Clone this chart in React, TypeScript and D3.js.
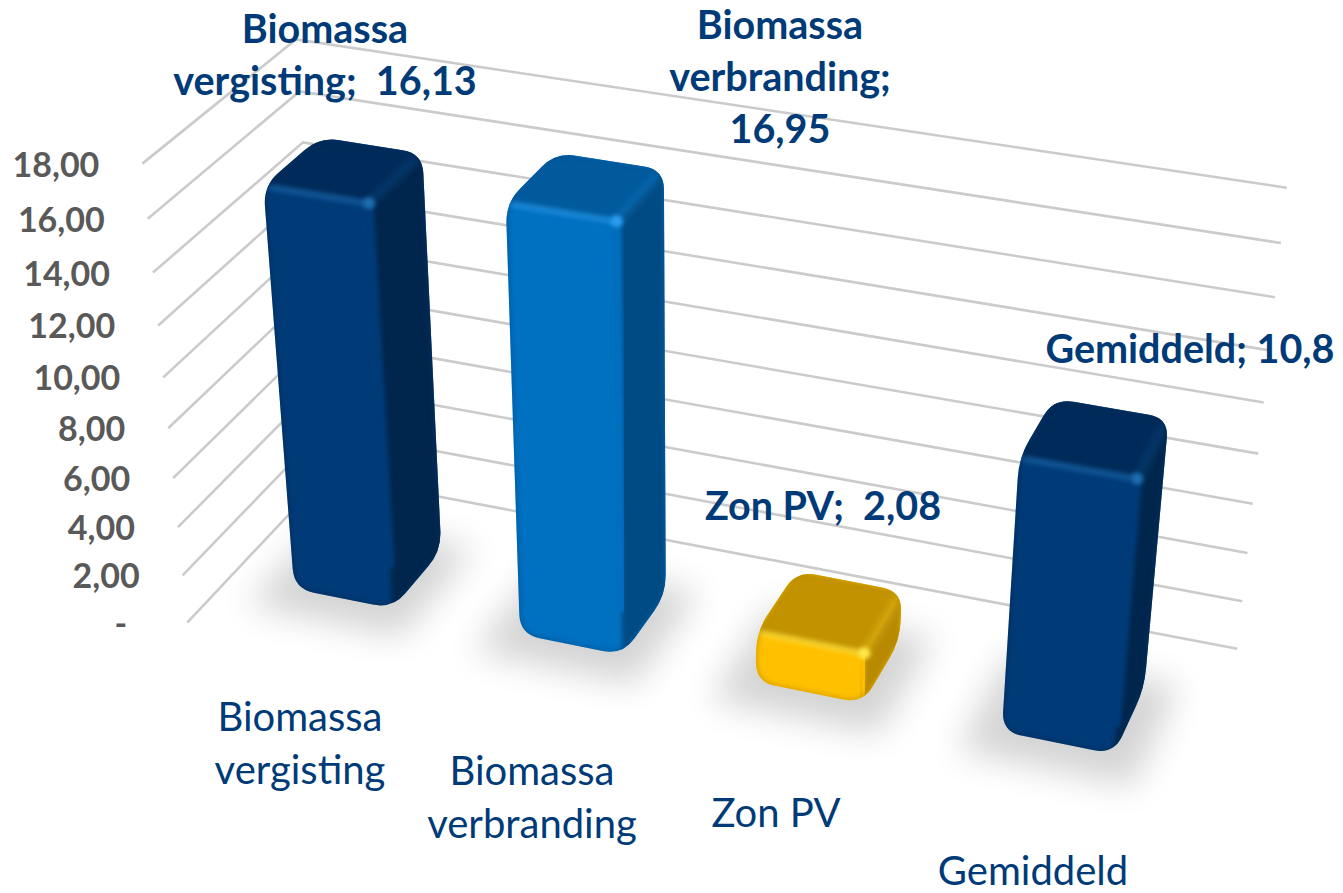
import * as d3 from "d3";

const categories = ["Biomassa vergisting", "Biomassa verbranding", "Zon PV", "Gemiddeld"];
const values = [16.13, 16.95, 2.08, 10.8];
const tickValues = [0, 2, 4, 6, 8, 10, 12, 14, 16, 18];
const tickLabels = ["-", "2,00", "4,00", "6,00", "8,00", "10,00", "12,00", "14,00", "16,00", "18,00"];
const dataLabels = [
  ["Biomassa", "vergisting;  16,13"],
  ["Biomassa", "verbranding;", "16,95"],
  ["Zon PV;  2,08"],
  ["Gemiddeld; 10,8"],
];
const categoryLabels = [["Biomassa", "vergisting"], ["Biomassa", "verbranding"], ["Zon PV"], ["Gemiddeld"]];

// layout, not data
const W = 1343;
const H = 893;
const dataLabelPos = [[325, 43], [780, 39], [823, 520], [1190, 363]];
const categoryLabelPos = [[300, 731], [532, 785], [776, 827], [1033, 885]];
const palette = [
  { front: "#003b78", top: "#002c5a", side: "#00264e", glow: "#1f6db0", rim: "#00264e" },
  { front: "#0070c0", top: "#005a9c", side: "#004c84", glow: "#2a9df0", rim: "#00508c" },
  { front: "#ffc000", top: "#c29200", side: "#b88a00", glow: "#ffe74a", rim: "#b88a00" },
  { front: "#003b78", top: "#002c5a", side: "#00264e", glow: "#1f6db0", rim: "#00264e" },
];

// picture positions of the chart box corners, used to solve the camera
const frontLeftPx = [[188, 623], [183, 576], [178, 527], [173, 478], [168, 428], [163, 376], [158, 324], [153, 272], [147, 217], [142, 163]];
const backRightPx = [[1238, 650], [1243, 602], [1248, 553], [1253, 504], [1258, 453], [1263, 402], [1269, 350], [1275, 296], [1280, 241], [1286, 185]];
const backLeftPx: [number, number, number][] = [[0, 325, 477], [14, 303, 141], [16, 300, 95], [18, 297, 40]];
const frontRightPx: [number, number, number][] = [[0, 1161, 822], [18, 1211, 347]];

const vScale = d3.scaleLinear().domain([0, 18]).range([0, 1]);
const xScale = d3.scaleBand<string>().domain(categories).range([-0.068, 1.07]).padding(0.56);
const depth = d3.scaleLinear().domain([0, 1]).range([0.3, 0.68]);

function solve(A: number[][], b: number[]) {
  const n = b.length;
  const M = A.map((r, i) => [...r, b[i]]);
  for (let c = 0; c < n; c++) {
    let p = c;
    for (let r = c + 1; r < n; r++) if (Math.abs(M[r][c]) > Math.abs(M[p][c])) p = r;
    [M[c], M[p]] = [M[p], M[c]];
    for (let r = 0; r < n; r++) {
      if (r === c) continue;
      const f = M[r][c] / M[c][c];
      for (let k = c; k <= n; k++) M[r][k] -= f * M[c][k];
    }
  }
  return M.map((r, i) => r[n] / r[i]);
}

function fitCamera() {
  const pts: number[][] = [];
  tickValues.forEach((v, i) => {
    pts.push([0, vScale(v), 0, frontLeftPx[i][0], frontLeftPx[i][1]]);
    pts.push([1, vScale(v), 1, backRightPx[i][0], backRightPx[i][1]]);
  });
  backLeftPx.forEach(([v, u, w]) => pts.push([0, vScale(v), 1, u, w]));
  frontRightPx.forEach(([v, u, w]) => pts.push([1, vScale(v), 0, u, w]));
  const rows: number[][] = [];
  const rhs: number[] = [];
  pts.forEach(([x, y, z, u0, v0]) => {
    const u = u0 / 1000;
    const v = v0 / 1000;
    rows.push([x, y, z, 1, 0, 0, 0, 0, -u * x, -u * y, -u * z]);
    rhs.push(u);
    rows.push([0, 0, 0, 0, x, y, z, 1, -v * x, -v * y, -v * z]);
    rhs.push(v);
  });
  const ata = d3.range(11).map(i => d3.range(11).map(j => d3.sum(rows, r => r[i] * r[j])));
  const atb = d3.range(11).map(i => d3.sum(rows, (r, k) => r[i] * rhs[k]));
  return solve(ata, atb);
}
const cam = fitCamera();

function project(x: number, y: number, z: number): [number, number] {
  const w = cam[8] * x + cam[9] * y + cam[10] * z + 1;
  return [
    (1000 * (cam[0] * x + cam[1] * y + cam[2] * z + cam[3])) / w,
    (1000 * (cam[4] * x + cam[5] * y + cam[6] * z + cam[7])) / w,
  ];
}

const polyLine = d3.line();

function roundedPoly(points: [number, number][], r: number) {
  const p = d3.path();
  const n = points.length;
  points.forEach((c, i) => {
    const a = points[(i + n - 1) % n];
    const b = points[(i + 1) % n];
    const la = Math.hypot(a[0] - c[0], a[1] - c[1]);
    const lb = Math.hypot(b[0] - c[0], b[1] - c[1]);
    const ra = Math.min(r, la / 2);
    const rb = Math.min(r, lb / 2);
    const s: [number, number] = [c[0] + ((a[0] - c[0]) * ra) / la, c[1] + ((a[1] - c[1]) * ra) / la];
    const e: [number, number] = [c[0] + ((b[0] - c[0]) * rb) / lb, c[1] + ((b[1] - c[1]) * rb) / lb];
    if (i === 0) p.moveTo(s[0], s[1]);
    else p.lineTo(s[0], s[1]);
    p.quadraticCurveTo(c[0], c[1], e[0], e[1]);
  });
  p.closePath();
  return p.toString();
}

function Bar({ index }: { index: number }) {
  const cat = categories[index];
  const c = palette[index];
  const x0 = xScale(cat)!;
  const x1 = x0 + xScale.bandwidth();
  const z0 = depth(0);
  const z1 = depth(1);
  const v = vScale(values[index]);
  const fbl = project(x0, 0, z0);
  const fbr = project(x1, 0, z0);
  const bbr = project(x1, 0, z1);
  const ftl = project(x0, v, z0);
  const ftr = project(x1, v, z0);
  const btl = project(x0, v, z1);
  const btr = project(x1, v, z1);
  const hull = roundedPoly([btl, btr, bbr, fbr, fbl, ftl], 20);
  const clipId = `bar-clip-${index}`;
  const fbrInset: [number, number] = [ftr[0] + (fbr[0] - ftr[0]) * 0.9, ftr[1] + (fbr[1] - ftr[1]) * 0.9];
  return (
    <g>
      <clipPath id={clipId}>
        <path d={hull} />
      </clipPath>
      <path d={hull} fill={c.front} />
      <g clipPath={`url(#${clipId})`}>
        <path d={polyLine([ftl, ftr, btr, btl])! + "Z"} fill={c.top} filter="url(#soft)" />
        <path d={polyLine([fbr, bbr, btr, ftr])! + "Z"} fill={c.side} filter="url(#soft)" />
        <path d={polyLine([ftl, ftr])!} stroke={c.glow} strokeWidth={7} opacity={0.55} filter="url(#soft)" fill="none" />
        <path d={polyLine([ftr, fbrInset])!} stroke={c.front} strokeWidth={9} filter="url(#soft)" fill="none" />
        <path d={polyLine([ftr, btr])!} stroke={c.glow} strokeWidth={14} opacity={0.12} filter="url(#soft)" fill="none" />
        <circle cx={ftr[0]} cy={ftr[1]} r={6} fill={c.glow} filter="url(#soft)" />
        <path d={hull} fill="none" stroke={c.rim} strokeWidth={4} opacity={0.5} filter="url(#soft)" />
      </g>
    </g>
  );
}

export default function App() {
  const z0 = depth(0);
  const z1 = depth(1);
  const labelStyle = { fontFamily: "Lato, sans-serif" };
  return (
    <svg width={W} height={H} style={{ position: "absolute", left: 0, top: 0 }}>
      <defs>
        <filter id="soft" x="-30%" y="-30%" width="160%" height="160%">
          <feGaussianBlur stdDeviation={2} />
        </filter>
        <filter id="floorShadow" x="-60%" y="-60%" width="220%" height="220%">
          <feGaussianBlur stdDeviation={17} />
        </filter>
      </defs>

      {tickValues.map(t => {
        const v = vScale(t);
        return (
          <path
            key={t}
            d={polyLine([project(0, v, 0), project(0, v, 1), project(1, v, 1)])!}
            fill="none"
            stroke="#cbcbcb"
            strokeWidth={2.6}
          />
        );
      })}

      {categories.map((cat, i) => {
        const x0 = xScale(cat)! - 0.03;
        const x1 = xScale(cat)! + xScale.bandwidth() + 0.03;
        const foot = [project(x0, 0, z0 - 0.14), project(x1, 0, z0 - 0.14), project(x1, 0, z1 + 0.05), project(x0, 0, z1 + 0.05)] as [number, number][];
        return <path key={i} d={polyLine(foot)! + "Z"} fill="#000" opacity={0.17} filter="url(#floorShadow)" />;
      })}

      {categories.map((_, i) => <Bar key={i} index={i} />)}

      {tickLabels.map((t, i) => {
        const [px, py] = project(0, vScale(tickValues[i]), 0);
        return (
          <text key={t} x={px - (t === "-" ? 60 : 43)} y={py + 13} textAnchor="end" fontSize={34} fontWeight={700} fill="#595959" style={labelStyle}>
            {t}
          </text>
        );
      })}

      {dataLabels.map((lines, i) => (
        <text key={i} textAnchor="middle" fontSize={39.5} fontWeight={700} fill="#003b78" style={{ ...labelStyle, whiteSpace: "pre" }}>
          {lines.map((l, k) => (
            <tspan key={k} x={dataLabelPos[i][0]} y={dataLabelPos[i][1] + k * 52}>{l}</tspan>
          ))}
        </text>
      ))}

      {categoryLabels.map((lines, i) => (
        <text key={i} textAnchor="middle" fontSize={40} fill="#003b78" style={labelStyle}>
          {lines.map((l, k) => (
            <tspan key={k} x={categoryLabelPos[i][0]} y={categoryLabelPos[i][1] + k * 52.5}>{l}</tspan>
          ))}
        </text>
      ))}
    </svg>
  );
}
